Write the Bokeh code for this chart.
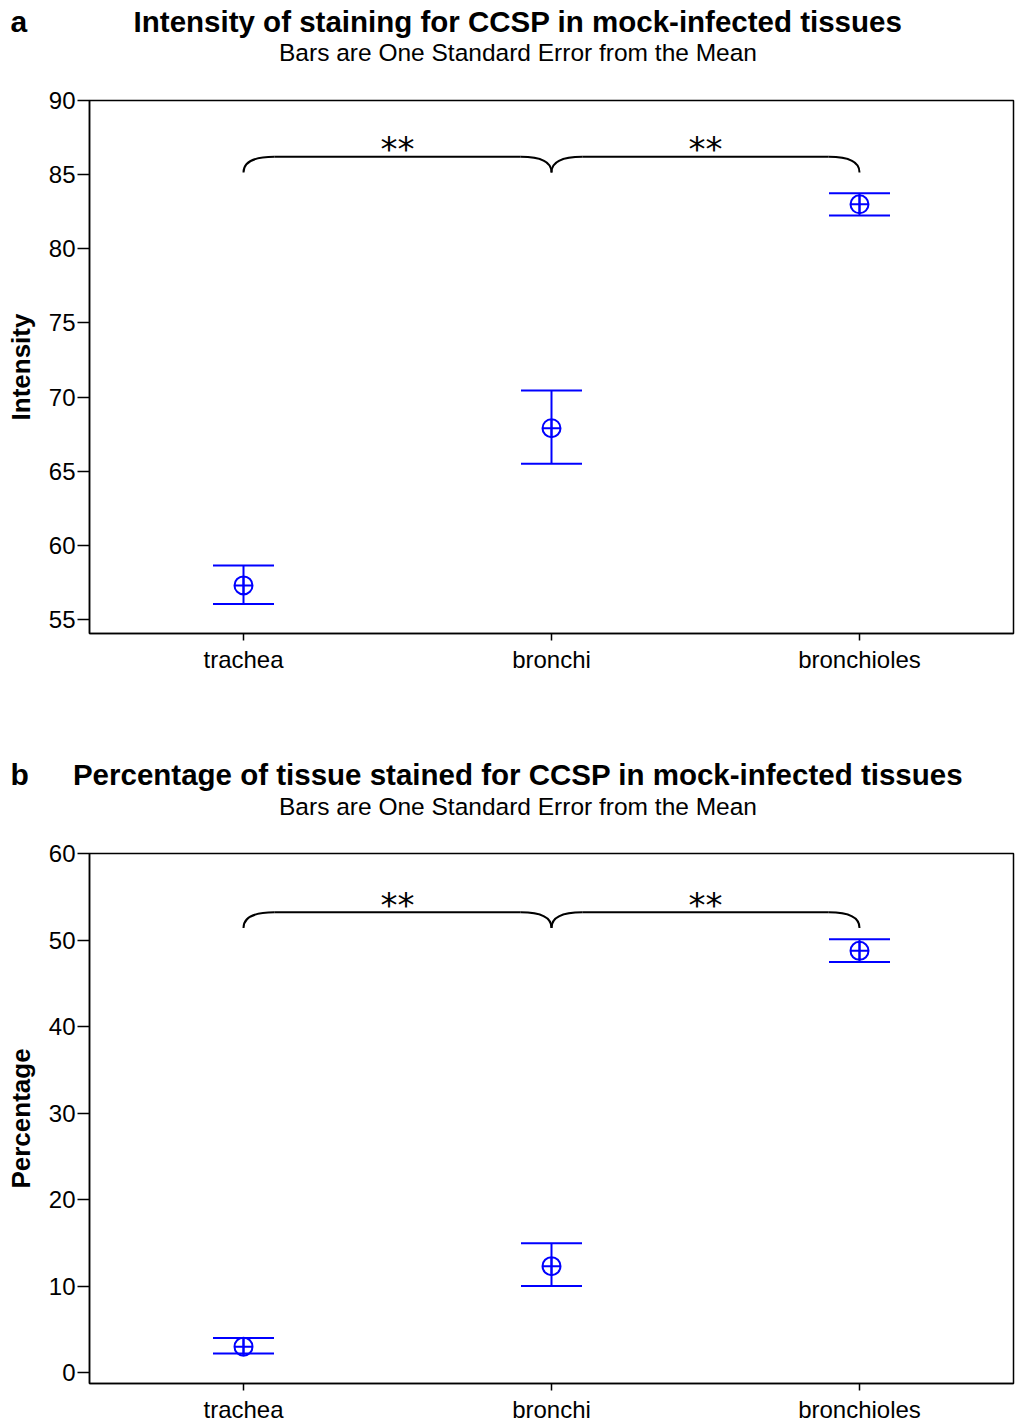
from bokeh.plotting import figure
from bokeh.models import Range1d, FixedTicker, Whisker, TeeHead, ColumnDataSource, Label
from bokeh.layouts import column
from bokeh.embed import file_html
from bokeh.resources import INLINE
from bokeh.core.properties import value

# ---------------- data ----------------
categories = ["trachea", "bronchi", "bronchioles"]

intensity_mean = [57.3, 67.9, 83.0]
intensity_lower = [56.05, 65.5, 82.25]
intensity_upper = [58.65, 70.45, 83.75]
intensity_ticks = [55, 60, 65, 70, 75, 80, 85, 90]

percent_mean = [3.0, 12.3, 48.75]
percent_lower = [2.2, 10.0, 47.45]
percent_upper = [4.0, 14.95, 50.1]
percent_ticks = [0, 10, 20, 30, 40, 50, 60]

comparisons = [(0, 1), (1, 2)]
comparison_labels = ["**", "**"]

panel_letters = ["a", "b"]
panel_titles = ["Intensity of staining for CCSP in mock-infected tissues",
                "Percentage of tissue stained for CCSP in mock-infected tissues"]
panel_subtitle = "Bars are One Standard Error from the Mean"
panel_ylabels = ["Intensity", "Percentage"]

FONT = "Liberation Sans"
W = 1015
LEFT = 89
TOP = 100
# reference levels of the stacked header panels (found empirically)
REF_LETTER, REF_TITLE, REF_SUB = 110, 77, 43


def make_panel(letter, title, subtitle, ylabel, mean, lower, upper, yticks,
               ymin, ymax, brace_low, brace_high, star_y, height, border_bottom,
               title_base, sub_base):
    xs = list(range(len(categories)))
    p = figure(width=W, height=height, title=None,
               x_range=Range1d(-0.5, len(categories) - 0.5),
               y_range=Range1d(ymin, ymax),
               output_backend="svg", toolbar_location=None,
               min_border_left=LEFT, min_border_right=2, min_border_top=TOP,
               min_border_bottom=border_bottom)
    p.grid.visible = False
    p.outline_line_color = "black"
    p.outline_line_width = 1.5
    p.outline_line_alpha = 1.0

    xa = p.xaxis[0]
    xa.ticker = FixedTicker(ticks=xs)
    xa.major_label_overrides = {i: c for i, c in zip(xs, categories)}
    xa.major_tick_out = 7
    xa.major_tick_in = 0
    xa.minor_tick_out = 0
    xa.minor_tick_in = 0
    xa.axis_line_width = 1.5
    xa.major_tick_line_width = 1.5
    xa.major_label_text_font = FONT
    xa.major_label_text_font_size = "24px"
    xa.major_label_text_color = "black"
    xa.major_label_standoff = 5

    ya = p.yaxis[0]
    ya.ticker = FixedTicker(ticks=yticks)
    ya.major_tick_out = 12
    ya.major_tick_in = 0
    ya.minor_tick_out = 0
    ya.minor_tick_in = 0
    ya.axis_line_width = 1.5
    ya.major_tick_line_width = 1.5
    ya.major_label_text_font = FONT
    ya.major_label_text_font_size = "24px"
    ya.major_label_text_color = "black"
    ya.major_label_standoff = 2
    ya.axis_label = ylabel
    ya.axis_label_text_font = FONT
    ya.axis_label_text_font_size = "26px"
    ya.axis_label_text_font_style = "bold"
    ya.axis_label_text_color = "black"
    ya.axis_label_standoff = 10

    src = ColumnDataSource(dict(x=xs, mean=mean, lower=lower, upper=upper))
    w = Whisker(base="x", upper="upper", lower="lower", source=src,
                line_color="blue", line_width=2,
                upper_head=TeeHead(size=61, line_color="blue", line_width=2),
                lower_head=TeeHead(size=61, line_color="blue", line_width=2))
    p.add_layout(w)
    p.scatter("x", "mean", source=src, marker="circle_cross", size=18,
              line_color="blue", line_width=2, fill_color=None)

    # significance braces
    dx = 0.1
    for (i, j), lab in zip(comparisons, comparison_labels):
        p.quadratic(x0=[i], y0=[brace_low], x1=[i + dx], y1=[brace_high],
                    cx=[i], cy=[brace_high], line_color="black", line_width=2)
        p.segment(x0=[i + dx], y0=[brace_high], x1=[j - dx], y1=[brace_high],
                  line_color="black", line_width=2)
        p.quadratic(x0=[j - dx], y0=[brace_high], x1=[j], y1=[brace_low],
                    cx=[j], cy=[brace_high], line_color="black", line_width=2)
        p.text(x=[(i + j) / 2], y=[star_y], text=[lab],
               text_font=value("DejaVu Sans"), text_font_size="34px",
               text_align="center", text_baseline="middle", text_color="black")

    # header texts, placed in the border above the frame
    p.add_layout(Label(x=10 - LEFT, y=REF_LETTER - title_base, x_units="screen",
                       y_units="screen", text=letter, text_font=FONT,
                       text_font_size="30px", text_font_style="bold",
                       text_align="left", text_baseline="alphabetic",
                       text_color="black"), "above")
    p.add_layout(Label(x=517.5 - LEFT, y=REF_TITLE - title_base, x_units="screen",
                       y_units="screen", text=title, text_font=FONT,
                       text_font_size="29.5px", text_font_style="bold",
                       text_align="center", text_baseline="alphabetic",
                       text_color="black"), "above")
    p.add_layout(Label(x=517.5 - LEFT, y=REF_SUB - sub_base, x_units="screen",
                       y_units="screen", text=subtitle, text_font=FONT,
                       text_font_size="24.5px", text_align="center",
                       text_baseline="alphabetic", text_color="black"), "above")
    return p


pa = make_panel(panel_letters[0], panel_titles[0], panel_subtitle, panel_ylabels[0],
                intensity_mean, intensity_lower, intensity_upper, intensity_ticks,
                54.056, 90, 85.15, 86.2, 86.7, 753, 120, 31, 61)
pb = make_panel(panel_letters[1], panel_titles[1], panel_subtitle, panel_ylabels[1],
                percent_mean, percent_lower, percent_upper, percent_ticks,
                -1.26, 60, 51.4, 53.2, 54.1, 672, 39, 31, 62)

layout = column(pa, pb)
open("out.html", "w").write(file_html(layout, INLINE))
